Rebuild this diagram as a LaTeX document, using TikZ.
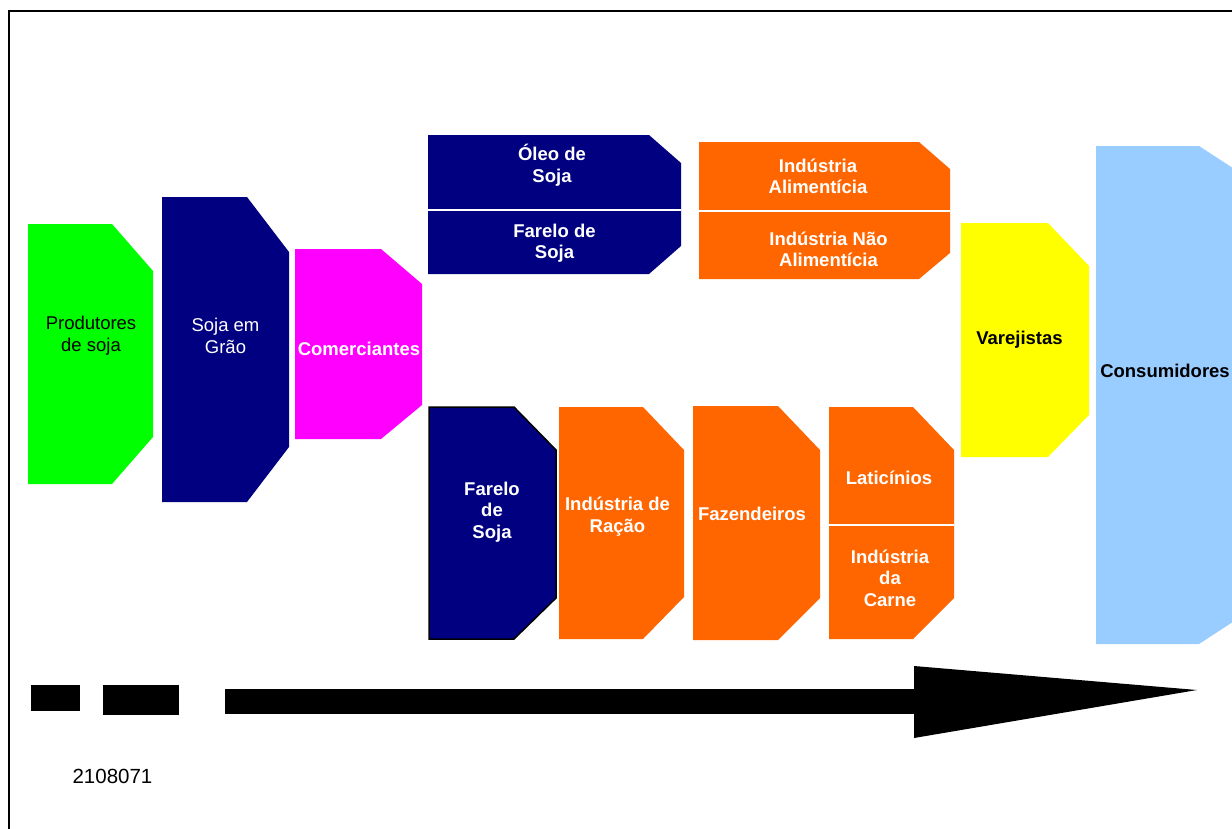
\documentclass[tikz,border=0pt]{standalone}
\usepackage{fontspec}
\setmainfont{Liberation Sans}
\definecolor{cgreen}{HTML}{00FF00}
\definecolor{cnavy}{HTML}{000080}
\definecolor{cmagenta}{HTML}{FF00FF}
\definecolor{corange}{HTML}{FF6600}
\definecolor{cyellow}{HTML}{FFFF00}
\definecolor{cblue}{HTML}{99CCFF}
\newcommand\chambox[9][]{%
  \path[#1,fill=#2] (#3,#4) -- (#7,#4) -- (#5,#8) -- (#5,#9) -- (#7,#6) -- (#3,#6) -- cycle;}
\tikzset{
  lbl/.style={align=center,inner sep=0pt,font=\fontsize{18.5}{22}\selectfont},
  wbold/.style={lbl,text=white,font=\fontsize{18.5}{21.5}\selectfont\bfseries},
  wreg/.style={lbl,text=white},
  bbold/.style={lbl,text=black,font=\fontsize{18.5}{22}\selectfont\bfseries},
  divider/.style={draw=white,line width=2pt},
  frameline/.style={draw=black,line width=2pt},
}
\begin{document}
\begin{tikzpicture}[x=1pt,y=-1pt]
\useasboundingbox (0,0) rectangle (1232,828);
\clip (0,0) rectangle (1232,828);
% frame
\draw[frameline] (8.5,830) -- (8.5,10.5) -- (1234,10.5);
% left column
\chambox{cgreen}{28}{224}{153}{484}{112}{271}{437}
\chambox{cnavy}{162}{197}{289}{502}{247}{252}{447}
\chambox{cmagenta}{295}{249}{422}{439}{381}{284}{405}
% upper branch
\chambox{cnavy}{428}{135}{681}{274}{649}{163}{246}
\draw[divider] (428,209.5) -- (681,209.5);
\chambox{corange}{699}{142}{950}{279}{919}{169}{253}
\draw[divider] (699,210.5) -- (950,210.5);
% lower branch
\chambox[draw=black,line width=1.5pt]{cnavy}{429}{407}{556}{639}{514}{450}{598}
\chambox{corange}{559}{407}{684}{639}{643}{450}{597}
\chambox{corange}{693}{406}{820}{640}{778}{450}{598}
\chambox{corange}{829}{407}{954}{639}{913}{450}{598}
\draw[divider] (829,524.5) -- (954,524.5);
% right
\chambox{cyellow}{961}{223}{1089}{457}{1048}{266}{415}
\chambox{cblue}{1096}{146}{1262}{644}{1199}{187}{603}
% labels
\node[lbl] (prod) at (91,336) {Produtores\\de soja};
\node[wreg] (grao) at (225.5,336) {Soja em\\Grão};
\node[wbold] (com) at (359,348.5) {Comerciantes};
\node[wbold] (oleo) at (552,165) {Óleo de\\Soja};
\node[wbold] (farelo1) at (554.5,243) {Farelo de\\Soja};
\node[wbold] (ialim) at (818,176.5) {Indústria\\Alimentícia};
\node[wbold] (inalim) at (828.5,249.5) {Indústria Não\\Alimentícia};
\node[wbold] (farelo2) at (492,512) {Farelo\\de\\Soja};
\node[wbold] (racao) at (617.5,516.5) {Indústria de\\Ração};
\node[wbold] (faz) at (752,514) {Fazendeiros};
\node[wbold] (lat) at (889,478) {Laticínios};
\node[wbold] (carne) at (890,578) {Indústria\\da\\Carne};
\node[bbold] (varej) at (1019.5,339.5) {Varejistas};
\node[bbold] (cons) at (1165,371) {Consumidores};
% bottom arrow
\fill[black] (31,685) rectangle (80,711);
\fill[black] (103,685) rectangle (179,715);
\fill[black] (225,689) rectangle (915,714);
\fill[black] (914,666) -- (1197,690) -- (914,738) -- cycle;
\node[lbl,font=\fontsize{20.5}{22}\selectfont] (code) at (112.5,776.5) {2108071};
\end{tikzpicture}
\end{document}
